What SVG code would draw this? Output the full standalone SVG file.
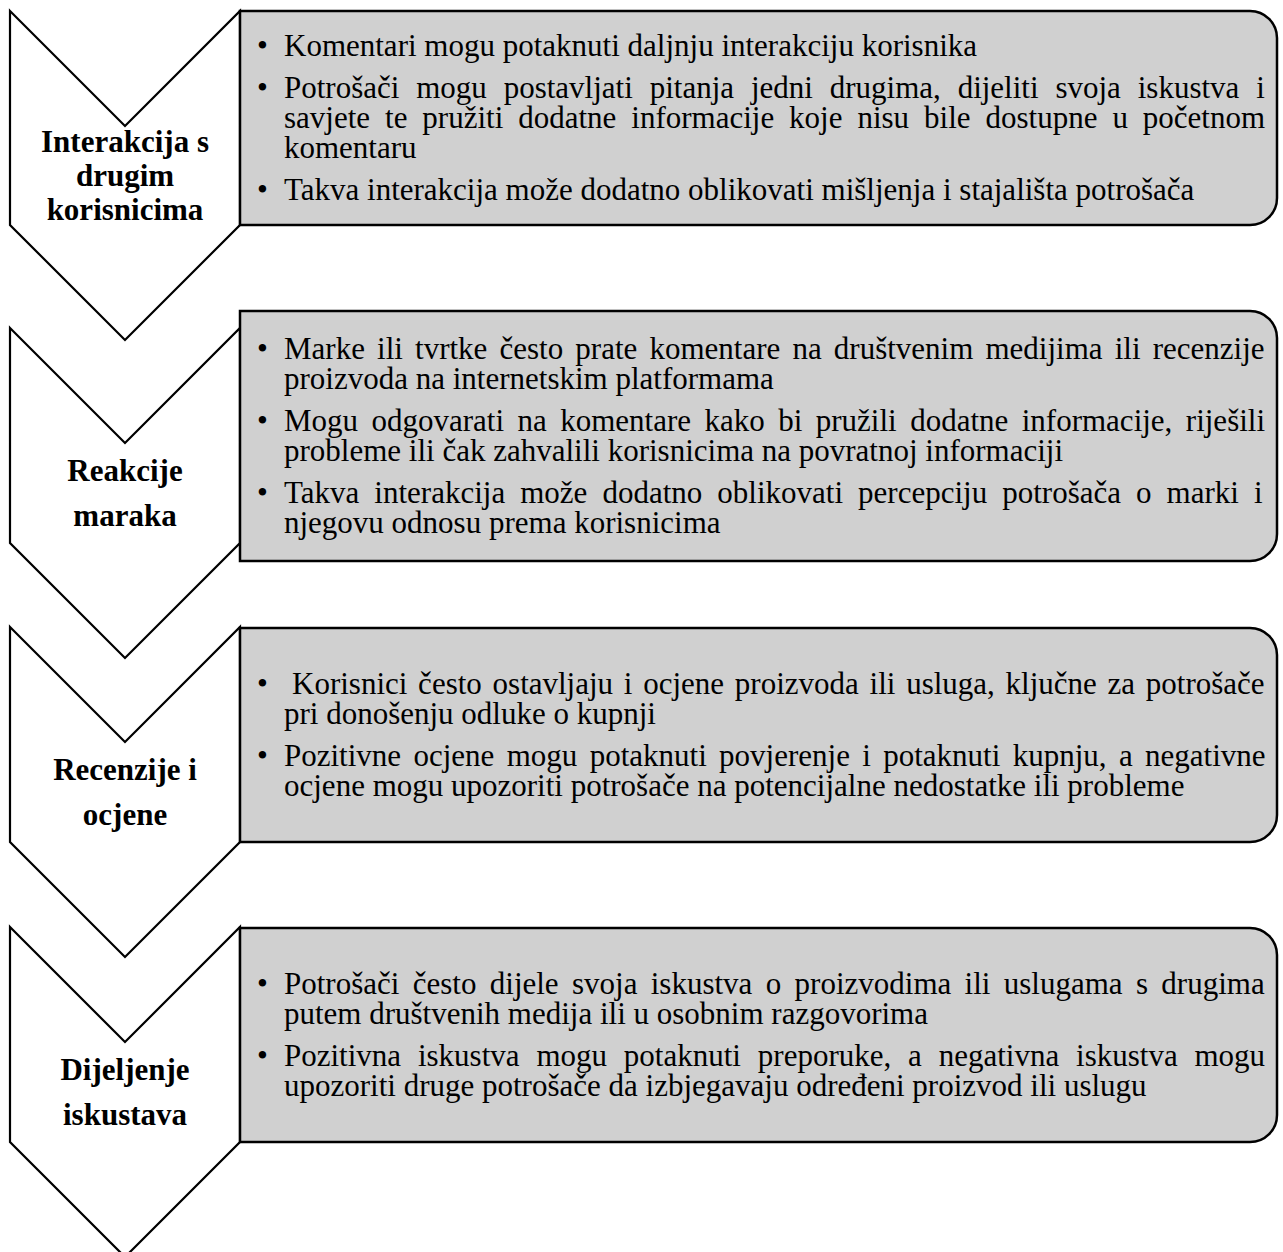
<svg xmlns="http://www.w3.org/2000/svg" width="1283" height="1252" viewBox="0 0 1283 1252">
<style>
.chev{fill:#ffffff;stroke:#000;stroke-width:2.2;stroke-linejoin:miter}
.box{fill:#d0d0d0;stroke:#000;stroke-width:2.5}
.lbl{font-family:"Liberation Serif","Times New Roman",serif;font-weight:bold;font-size:31px;fill:#000;text-anchor:middle}
.t{font-family:"Liberation Serif","Times New Roman",serif;font-size:31px;fill:#000}
</style>
<rect width="1283" height="1252" fill="#ffffff"/>
<g id="connectors"></g>
<g id="node1">
<path class="chev" d="M10,11 L125,126 L240,11 L240,225 L125,340 L10,225 Z"/>
<path class="box" d="M240,11 H1250 A27,27 0 0 1 1277,38 V198 A27,27 0 0 1 1250,225 H240 Z"/>
<text class="lbl" x="125" y="152">Interakcija s</text>
<text class="lbl" x="125" y="186">drugim</text>
<text class="lbl" x="125" y="220">korisnicima</text>
<text class="t" x="257" y="56">•</text><text class="t" x="284" y="56">Komentari mogu potaknuti daljnju interakciju korisnika</text>
<text class="t" x="257" y="98">•</text><text class="t" x="284" y="98" word-spacing="9.1">Potrošači mogu postavljati pitanja jedni drugima, dijeliti svoja iskustva i</text>
<text class="t" x="284" y="128" word-spacing="7.2">savjete te pružiti dodatne informacije koje nisu bile dostupne u početnom</text>
<text class="t" x="284" y="158">komentaru</text>
<text class="t" x="257" y="200">•</text><text class="t" x="284" y="200">Takva interakcija može dodatno oblikovati mišljenja i stajališta potrošača</text>
</g>
<g id="node2">
<path class="chev" d="M10,328 L125,443 L240,328 L240,543 L125,658 L10,543 Z"/>
<path class="box" d="M240,311 H1250 A27,27 0 0 1 1277,338 V534 A27,27 0 0 1 1250,561 H240 Z"/>
<text class="lbl" x="125" y="481">Reakcije</text>
<text class="lbl" x="125" y="526">maraka</text>
<text class="t" x="257" y="359">•</text><text class="t" x="284" y="359" word-spacing="4.4">Marke ili tvrtke često prate komentare na društvenim medijima ili recenzije</text>
<text class="t" x="284" y="389">proizvoda na internetskim platformama</text>
<text class="t" x="257" y="431">•</text><text class="t" x="284" y="431" word-spacing="5.7">Mogu odgovarati na komentare kako bi pružili dodatne informacije, riješili</text>
<text class="t" x="284" y="461">probleme ili čak zahvalili korisnicima na povratnoj informaciji</text>
<text class="t" x="257" y="503">•</text><text class="t" x="284" y="503" word-spacing="7.3">Takva interakcija može dodatno oblikovati percepciju potrošača o marki i</text>
<text class="t" x="284" y="533">njegovu odnosu prema korisnicima</text>
</g>
<g id="node3">
<path class="chev" d="M10,627 L125,742 L240,627 L240,842 L125,957 L10,842 Z"/>
<path class="box" d="M240,628 H1250 A27,27 0 0 1 1277,655 V815 A27,27 0 0 1 1250,842 H240 Z"/>
<text class="lbl" x="125" y="780">Recenzije i</text>
<text class="lbl" x="125" y="825">ocjene</text>
<text class="t" x="257" y="694">•</text><text class="t" x="292" y="694" word-spacing="3.0">Korisnici često ostavljaju i ocjene proizvoda ili usluga, ključne za potrošače</text>
<text class="t" x="284" y="724">pri donošenju odluke o kupnji</text>
<text class="t" x="257" y="766">•</text><text class="t" x="284" y="766" word-spacing="4.6">Pozitivne ocjene mogu potaknuti povjerenje i potaknuti kupnju, a negativne</text>
<text class="t" x="284" y="796">ocjene mogu upozoriti potrošače na potencijalne nedostatke ili probleme</text>
</g>
<g id="node4">
<path class="chev" d="M10,927 L125,1042 L240,927 L240,1142 L125,1257 L10,1142 Z"/>
<path class="box" d="M240,928 H1250 A27,27 0 0 1 1277,955 V1115 A27,27 0 0 1 1250,1142 H240 Z"/>
<text class="lbl" x="125" y="1080">Dijeljenje</text>
<text class="lbl" x="125" y="1125">iskustava</text>
<text class="t" x="257" y="994">•</text><text class="t" x="284" y="994" word-spacing="5.6">Potrošači često dijele svoja iskustva o proizvodima ili uslugama s drugima</text>
<text class="t" x="284" y="1024">putem društvenih medija ili u osobnim razgovorima</text>
<text class="t" x="257" y="1066">•</text><text class="t" x="284" y="1066" word-spacing="9.1">Pozitivna iskustva mogu potaknuti preporuke, a negativna iskustva mogu</text>
<text class="t" x="284" y="1096">upozoriti druge potrošače da izbjegavaju određeni proizvod ili uslugu</text>
</g>
</svg>
